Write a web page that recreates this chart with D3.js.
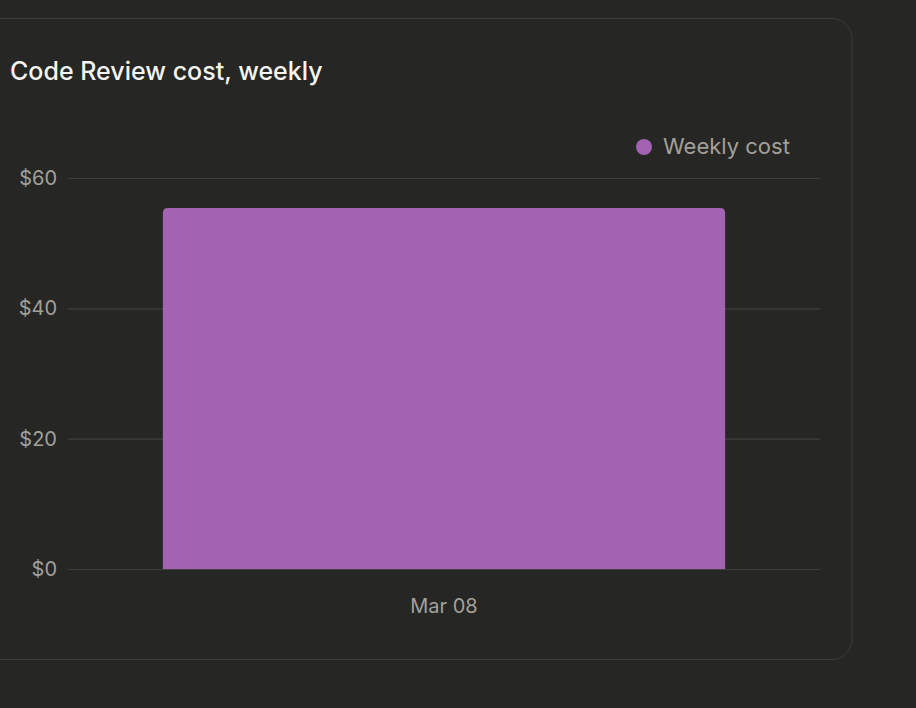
<!DOCTYPE html>
<html><head><meta charset="utf-8">
<script src="https://cdn.jsdelivr.net/npm/d3@7"></script>
<style>body{margin:0;background:#262624;}svg{display:block;font-family:Inter,"Noto Sans",sans-serif;}</style>
</head><body><svg id="c" width="916" height="708"></svg>
<script>
const categories = ["Mar 08"];
const weeklyCost = [55.4];
const yTicks = [0, 20, 40, 60];
const seriesName = "Weekly cost";

const svg = d3.select("#c");
svg.append("rect").attr("x",-30).attr("y",18.5).attr("width",882).attr("height",641)
  .attr("rx",20).attr("fill","#262624").attr("stroke","#3b3b38");
svg.append("text").attr("x",10).attr("y",80).attr("fill","#f5f4ef").attr("font-size",25).attr("font-weight",500).text("Code Review cost, weekly");

const y = d3.scaleLinear().domain([0,60]).range([569,178]);
const x = d3.scaleBand().domain(categories).range([68,820]).paddingInner(0.2).paddingOuter(0.135);

const g = svg.append("g");
g.selectAll("line.grid").data(yTicks).join("line").attr("x1",68).attr("x2",820)
  .attr("y1",d=>y(d)+0.5).attr("y2",d=>y(d)+0.5).attr("stroke","#3f3f3c").attr("stroke-width",1.2);
g.selectAll("text.yt").data(yTicks).join("text").attr("x",57).attr("y",d=>y(d)+7)
  .attr("text-anchor","end").attr("fill","#a3a09a").attr("font-size",20).text(d=>"$"+d);

const r = 5;
g.selectAll("path.bar").data(categories).join("path").attr("fill","#a263b2")
  .attr("d",(c,i)=>{const x0=x(c),w=x.bandwidth(),t=y(weeklyCost[i]),b=y(0);
    return `M${x0},${b}V${t+r}Q${x0},${t} ${x0+r},${t}H${x0+w-r}Q${x0+w},${t} ${x0+w},${t+r}V${b}Z`;});
g.selectAll("text.xt").data(categories).join("text").attr("x",c=>x(c)+x.bandwidth()/2).attr("y",613)
  .attr("text-anchor","middle").attr("fill","#a3a09a").attr("font-size",20).text(d=>d);

svg.append("circle").attr("cx",644).attr("cy",147).attr("r",8).attr("fill","#a263b2");
svg.append("text").attr("x",663).attr("y",154).attr("fill","#a3a09a").attr("font-size",22).text(seriesName);
</script></body></html>
